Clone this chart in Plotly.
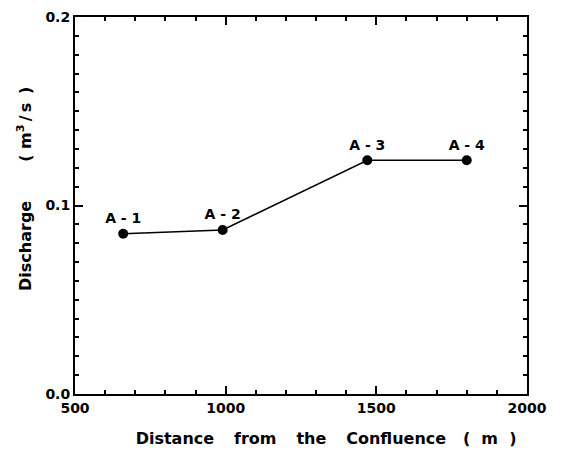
import plotly.graph_objects as go

stations = ["A - 1", "A - 2", "A - 3", "A - 4"]
distance_m = [660, 990, 1470, 1800]
discharge = [0.085, 0.087, 0.124, 0.124]

x_ticks = [500, 1000, 1500, 2000]
y_ticks = [0.0, 0.1, 0.2]
y_tick_labels = ["0.0", "0.1", "0.2"]
y_mid_ticks = [0.05, 0.15]

NB = "\u00a0"
TH = "\u2009"
ZW = "\u200b"
GAP = NB * 3 + TH
x_title = (ZW + NB * 9 + f"Distance{GAP}from{GAP}the{GAP}Confluence{NB*3}({NB*2}m{NB*2})")
y_title = (ZW + NB * 6 + f"Discharge{NB*7}({NB}m<sup>3</sup>{TH}/{TH}s{NB}{TH})")

FAM = "DejaVu Sans, Arial, sans-serif"
tick_font = dict(family=FAM, size=14, color="black", weight="bold")
title_font = dict(family=FAM, size=16, color="black", weight="bold")

fig = go.Figure()
fig.add_trace(go.Scatter(
    x=distance_m, y=discharge, text=stations,
    mode="lines+markers+text", textposition="top center",
    textfont=dict(family=FAM, size=14, color="black", weight="bold"),
    line=dict(color="black", width=1.5),
    marker=dict(color="black", size=10),
    showlegend=False, cliponaxis=False,
))

axis_common = dict(
    showline=True, linecolor="black", linewidth=2, mirror="allticks",
    ticks="inside", ticklen=8, tickwidth=1.5, tickcolor="black",
    showgrid=False, zeroline=False, tickfont=tick_font, automargin=False,
)

fig.update_layout(
    width=561, height=451,
    margin=dict(l=67, r=42, t=9, b=65),
    plot_bgcolor="white", paper_bgcolor="white",
    xaxis=dict(
        range=[500, 2000], tickvals=x_ticks, ticktext=[str(v) for v in x_ticks],
        minor=dict(dtick=100, ticks="inside", ticklen=4, tickwidth=1.5, tickcolor="black", showgrid=False),
        title=dict(text=x_title, font=title_font, standoff=18),
        **axis_common,
    ),
    yaxis=dict(
        range=[0, 0.2], tickvals=y_ticks, ticktext=y_tick_labels,
        minor=dict(dtick=0.01, ticks="inside", ticklen=4, tickwidth=1.5, tickcolor="black", showgrid=False),
        title=dict(text=y_title, font=title_font, standoff=10),
        **axis_common,
    ),
    yaxis2=dict(
        overlaying="y", side="left", range=[0, 0.2], tickvals=y_mid_ticks,
        showticklabels=False, ticks="inside", ticklen=8, tickwidth=1.5, tickcolor="black",
        showline=True, linecolor="black", linewidth=2, mirror="ticks",
        showgrid=False, zeroline=False, automargin=False,
    ),
)

fig.write_html("out.html")
